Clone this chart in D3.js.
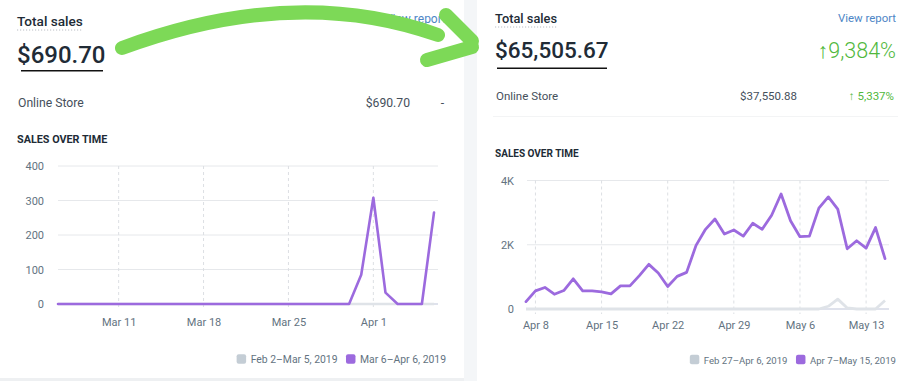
<!DOCTYPE html>
<html><head><meta charset="utf-8">
<script src="https://cdn.jsdelivr.net/npm/d3@7"></script>
<style>body{margin:0;background:#fff;}svg{display:block;font-family:Roboto,"Open Sans",sans-serif;}</style>
</head><body><svg id="c" width="911" height="381"></svg>
<script>
// ---------- DATA ----------
const leftStart = "2019-03-06", leftEnd = "2019-04-06";
const leftCurrent = [0,0,0,0,0,0,0,0,0,0,0,0,0,0,0,0,0,0,0,0,0,0,0,0,0,85,308,33,0,0,0,265];
const leftPrevious = [0,0,0,0,0,0,0,0,0,0,0,0,0,0,0,0,0,0,0,0,0,0,0,0,0,0,0,0,0,0,0,0];
const leftTickDates = ["2019-03-11","2019-03-18","2019-03-25","2019-04-01"];
const leftYTicks = [0,100,200,300,400];
const leftLegend = ["Feb 2\u2013Mar 5, 2019","Mar 6\u2013Apr 6, 2019"];

const rightStart = "2019-04-07", rightEnd = "2019-05-15";
const rightCurrent = [230,565,670,460,575,940,565,565,535,470,720,720,1040,1390,1120,700,1015,1140,1980,2480,2800,2335,2460,2270,2670,2480,2920,3580,2745,2250,2270,3140,3490,3110,1875,2125,1895,2535,1570];
const rightPrevious = [0,0,0,0,0,0,0,0,0,0,0,0,0,0,0,0,0,0,0,0,0,0,0,0,0,0,0,0,0,0,0,0,85,308,33,0,0,0,265];
const rightTickDates = ["2019-04-08","2019-04-15","2019-04-22","2019-04-29","2019-05-06","2019-05-13"];
const rightYTicks = [0,2000,4000];
const rightLegend = ["Feb 27\u2013Apr 6, 2019","Apr 7\u2013May 15, 2019"];

// ---------- DRAW ----------
const svg = d3.select("#c");
const parse = d3.utcParse("%Y-%m-%d");
const PURPLE = "#9c6ade", GRAY = "#dfe3e8", GREEN = "#50b83c", DARK = "#212b36", MID = "#454f5b", TICK = "#637381";

// panels
svg.append("rect").attr("x",0).attr("y",0).attr("width",911).attr("height",381).attr("fill","#fff");
svg.append("rect").attr("x",464).attr("y",0).attr("width",13).attr("height",381).attr("fill","#f4f6f8");
svg.append("rect").attr("x",0).attr("y",378).attr("width",464).attr("height",3).attr("fill","#eef0f2");
svg.append("line").attr("x1",493).attr("x2",898).attr("y1",116.5).attr("y2",116.5).attr("stroke","#f3f4f5");

function txt(x,y,s,o){
  const t = svg.append("text").attr("x",x).attr("y",y).text(s)
    .attr("font-size",o.size).attr("fill",o.fill||DARK)
    .attr("font-weight",o.weight||400).attr("text-anchor",o.anchor||"start");
  return t;
}

function header(p){
  txt(p.x, p.titleY, "Total sales", {size:p.titleSize, weight:500});
  svg.append("line").attr("x1",p.x).attr("x2",p.x+p.titleW).attr("y1",p.titleY+4.5).attr("y2",p.titleY+4.5)
    .attr("stroke","#b9bec4").attr("stroke-dasharray","1.2,1.8").attr("stroke-width",1);
  txt(p.viewX, p.viewY, "View report", {size:p.viewSize, fill:"#4e86c6", anchor:"end"});
  txt(p.x, p.totalY, p.total, {size:p.totalSize, weight:500});
  svg.append("line").attr("x1",p.ulX1).attr("x2",p.ulX2).attr("y1",p.ulY).attr("y2",p.ulY).attr("stroke","#111").attr("stroke-width",1.6);
  if(p.change) txt(p.viewX, p.totalY-0.5, p.change, {size:p.changeSize, fill:GREEN, anchor:"end", weight:300});
  txt(p.x+1, p.storeY, "Online Store", {size:p.storeSize, fill:MID});
  txt(p.storeValX, p.storeY, p.storeVal, {size:p.storeSize, fill:MID, anchor:"end"});
  txt(p.storeChgX, p.storeY, p.storeChg, {size:p.storeSize, fill:p.storeChgFill||MID, anchor:"end"});
  txt(p.x, p.sotY, "SALES OVER TIME", {size:p.sotSize, weight:700});
}

header({x:17,titleY:25.5,titleSize:13.6,titleW:66,viewX:446,viewY:23,viewSize:12,
  total:"$690.70",totalY:62.5,totalSize:24,ulX1:21,ulX2:103,ulY:70.8,
  storeY:106.5,storeSize:12.2,storeValX:410,storeVal:"$690.70",storeChgX:444,storeChg:"-",
  sotY:142.5,sotSize:10.8});
header({x:495,titleY:22.5,titleSize:12.8,titleW:62,viewX:896,viewY:22,viewSize:11.4,
  total:"$65,505.67",totalY:58,totalSize:22.5,ulX1:497,ulX2:607,ulY:68.3,change:"\u21919,384%",changeSize:21.5,
  storeY:99.8,storeSize:11.5,storeValX:797,storeVal:"$37,550.88",storeChgX:894,storeChg:"\u2191 5,337%",storeChgFill:GREEN,
  sotY:157,sotSize:10});

function chart(c){
  const x = d3.scaleUtc().domain([parse(c.start), parse(c.end)]).range([c.x0, c.x1]);
  const y = d3.scaleLinear().domain([0, c.yMax]).range([c.yBottom, c.yTop]);
  const dates = d3.utcDay.range(parse(c.start), d3.utcDay.offset(parse(c.end),1));
  const g = svg.append("g");
  g.selectAll(".hg").data(c.yTicks).join("line")
    .attr("x1",c.gx0).attr("x2",c.gx1).attr("y1",d=>y(d)).attr("y2",d=>y(d))
    .attr("stroke","#e6e8eb").attr("stroke-width",1);
  const td = c.tickDates.map(parse);
  g.selectAll(".vg").data(td).join("line")
    .attr("x1",d=>x(d)).attr("x2",d=>x(d)).attr("y1",c.yTop).attr("y2",c.yBottom+5)
    .attr("stroke","#dcdfe3").attr("stroke-dasharray","3,3").attr("stroke-width",1);
  g.append("line").attr("x1",c.gx0).attr("x2",c.gx1).attr("y1",y(0)).attr("y2",y(0))
    .attr("stroke","#d9dce8").attr("stroke-width",1.5);
  const ya = d3.axisLeft(y).tickValues(c.yTicks).tickSize(0).tickPadding(c.gx0-c.yLabelX).tickFormat(c.yFmt);
  const yg = g.append("g").attr("transform",`translate(${c.gx0},0)`).call(ya);
  const xa = d3.axisBottom(x).tickValues(td).tickSize(0).tickPadding(c.xPad).tickFormat(d3.utcFormat("%b %-d"));
  const xg = g.append("g").attr("transform",`translate(0,${c.yBottom})`).call(xa);
  [yg,xg].forEach(a=>{a.select(".domain").remove();
    a.selectAll("text").attr("fill",TICK).attr("font-size",11).attr("font-family","Roboto,sans-serif");});
  const line = d3.line().x((d,i)=>x(dates[i])).y(d=>y(d));
  g.append("path").datum(c.prev).attr("d",line).attr("fill","none").attr("stroke",GRAY)
    .attr("stroke-width",c.sw).attr("stroke-linejoin","round");
  g.append("path").datum(c.cur).attr("d",line).attr("fill","none").attr("stroke",PURPLE)
    .attr("stroke-width",c.sw).attr("stroke-linejoin","round").attr("stroke-linecap","round");
  const colors = [ "#c4cdd5", PURPLE ];
  const lg = g.append("g");
  let pos = c.legendEnd;
  for(let k=c.legend.length-1;k>=0;k--){
    const t = lg.append("text").attr("y",c.legendY).text(c.legend[k]).attr("font-size",c.legendSize)
      .attr("fill",TICK).attr("text-anchor","end").attr("x",pos);
    const w = t.node().getComputedTextLength();
    const sx = pos - w - 4.5 - 9.5;
    lg.append("rect").attr("x",sx).attr("y",c.legendY-8.8).attr("width",9.5).attr("height",9.5)
      .attr("rx",2).attr("fill",colors[k]);
    pos = sx - 8.5;
  }
}

chart({start:leftStart,end:leftEnd,cur:leftCurrent,prev:leftPrevious,tickDates:leftTickDates,
  yTicks:leftYTicks,yMax:400,yFmt:d3.format("d"),x0:58,x1:434,gx0:58,gx1:438,yTop:166,yBottom:304,
  yLabelX:44,xPad:14,sw:2.6,legend:leftLegend,legendEnd:446,legendY:363,legendSize:10.4});
chart({start:rightStart,end:rightEnd,cur:rightCurrent,prev:rightPrevious,tickDates:rightTickDates,
  yTicks:rightYTicks,yMax:4000,yFmt:d=>d===0?"0":(d/1000)+"K",x0:526,x1:885,gx0:527,gx1:889,yTop:180.5,yBottom:309,
  yLabelX:514,xPad:12.5,sw:2.8,legend:rightLegend,legendEnd:896,legendY:363.5,legendSize:9.6});

// green annotation arrow
const ARROW = "#7dd957";
const ag = svg.append("g").attr("fill","none").attr("stroke",ARROW).attr("stroke-width",14).attr("stroke-linecap","round");
ag.append("path").attr("d","M122,48 Q295,-16 438,35");
ag.append("path").attr("d","M446,15 L472,41");
ag.append("path").attr("d","M427,60 L472,47");
</script></body></html>
